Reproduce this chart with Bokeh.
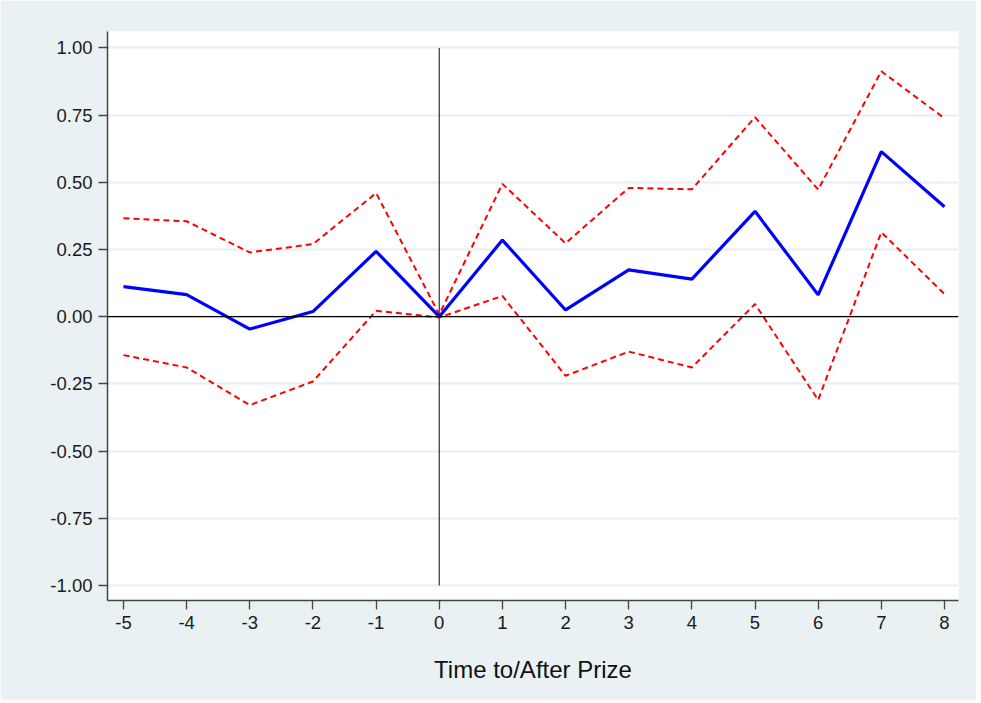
from bokeh.plotting import figure
from bokeh.models import Range1d, FixedTicker, Span, NumeralTickFormatter, ColumnDataSource
from bokeh.embed import file_html
from bokeh.resources import INLINE

# Data
periods = [-5, -4, -3, -2, -1, 0, 1, 2, 3, 4, 5, 6, 7, 8]
estimate = [0.112, 0.082, -0.046, 0.019, 0.243, 0.0, 0.285, 0.025, 0.174, 0.140, 0.392, 0.081, 0.614, 0.409]
upper_ci = [0.366, 0.355, 0.239, 0.270, 0.460, 0.008, 0.494, 0.273, 0.479, 0.474, 0.742, 0.473, 0.913, 0.738]
lower_ci = [-0.143, -0.189, -0.329, -0.241, 0.022, -0.003, 0.077, -0.220, -0.130, -0.189, 0.047, -0.310, 0.314, 0.084]
x_ticks = [-5, -4, -3, -2, -1, 0, 1, 2, 3, 4, 5, 6, 7, 8]
y_ticks = [-1.0, -0.75, -0.5, -0.25, 0.0, 0.25, 0.5, 0.75, 1.0]
x_label = "Time to/After Prize"

BG = "#EAF1F3"
FONT = "Liberation Sans"

src = ColumnDataSource(dict(x=periods, est=estimate, up=upper_ci, lo=lower_ci))

p = figure(width=976, height=700, output_backend="svg", toolbar_location=None,
           x_range=Range1d(-5.253, 8.222), y_range=Range1d(-1.056, 1.061),
           min_border_left=107, min_border_right=18, min_border_top=31, min_border_bottom=100)

p.background_fill_color = "white"
p.border_fill_color = BG
p.outline_line_color = None

# grid
p.xgrid.visible = False
p.ygrid.ticker = FixedTicker(ticks=y_ticks)
p.ygrid.grid_line_color = "#E6EEF1"
p.ygrid.grid_line_width = 2

# reference lines
p.add_layout(Span(location=0, dimension="width", line_color="black", line_width=1.2))
p.segment(x0=[0], y0=[y_ticks[0]], x1=[0], y1=[y_ticks[-1]], line_color="#333333", line_width=1.2)

# CI lines and estimate
p.line("x", "up", source=src, line_color="#FF0000", line_width=2, line_dash="6 4")
p.line("x", "lo", source=src, line_color="#FF0000", line_width=2, line_dash="6 4")
p.line("x", "est", source=src, line_color="#0000FF", line_width=3.2)

# axes
for ax in (p.xaxis[0], p.yaxis[0]):
    ax.axis_line_color = "#444444"
    ax.axis_line_width = 1.5
    ax.major_tick_line_color = "#444444"
    ax.major_tick_line_width = 1.3
    ax.major_tick_out = 9
    ax.major_tick_in = 0
    ax.minor_tick_line_color = None
    ax.major_label_text_font = FONT
    ax.major_label_text_font_size = "18.5px"
    ax.major_label_text_color = "#1a1a1a"
    ax.major_label_standoff = 6

p.xaxis[0].ticker = FixedTicker(ticks=x_ticks)
p.xaxis[0].formatter = NumeralTickFormatter(format="0")
p.yaxis[0].ticker = FixedTicker(ticks=y_ticks)
p.yaxis[0].formatter = NumeralTickFormatter(format="0.00")

p.xaxis[0].axis_label = x_label
p.xaxis[0].axis_label_text_font = FONT
p.xaxis[0].axis_label_text_font_size = "24px"
p.xaxis[0].axis_label_text_font_style = "normal"
p.xaxis[0].axis_label_text_color = "#111111"
p.xaxis[0].axis_label_standoff = 24

open("out.html", "w").write(file_html(p, INLINE))
